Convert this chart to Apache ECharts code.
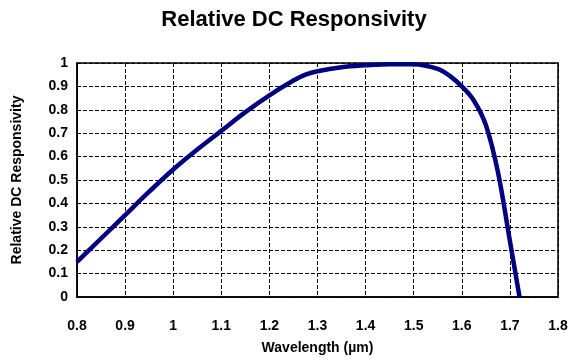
<!DOCTYPE html>
<html>
<head>
<meta charset="utf-8">
<script src="https://cdn.jsdelivr.net/npm/echarts@6/dist/echarts.min.js"></script>
<style>
html,body{margin:0;padding:0;background:#fff;}
#chart{width:579px;height:360px;}
</style>
</head>
<body>
<div id="chart"></div>
<script>
var wavelengths = [0.8, 0.85, 0.9, 0.95, 1.0, 1.05, 1.1, 1.15, 1.2, 1.25, 1.275, 1.3, 1.35, 1.4, 1.45, 1.5, 1.55, 1.575, 1.6, 1.625, 1.65, 1.675, 1.7, 1.72];
var responsivity = [0.15, 0.25, 0.35, 0.45, 0.545, 0.63, 0.71, 0.79, 0.862, 0.925, 0.95, 0.965, 0.982, 0.99, 0.995, 0.995, 0.975, 0.945, 0.9, 0.84, 0.735, 0.535, 0.24, 0];
var xTickLabels = ['0.8','0.9','1','1.1','1.2','1.3','1.4','1.5','1.6','1.7','1.8'];
var yTickLabels = ['0','0.1','0.2','0.3','0.4','0.5','0.6','0.7','0.8','0.9','1'];

var data = wavelengths.map(function(w, i){ return [w, responsivity[i]]; });
var font = '"Liberation Sans", Arial, sans-serif';
var chart = echarts.init(document.getElementById('chart'), null, {renderer:'canvas'});
chart.setOption({
  animation: false,
  backgroundColor: '#fff',
  title: {
    text: 'Relative DC Responsivity',
    left: 289, top: 4, textAlign: 'center',
    textStyle: {fontFamily: font, fontWeight: 'bold', fontSize: 22, color: '#000'}
  },
  grid: {left: 77, right: 21, top: 63, bottom: 63, show: true, borderColor: '#000', borderWidth: 1.5, backgroundColor: 'transparent'},
  xAxis: {
    type: 'value', min: 0.8, max: 1.8, interval: 0.1,
    name: 'Wavelength (µm)', nameLocation: 'middle', nameGap: 44,
    nameTextStyle: {fontFamily: font, fontWeight: 'bold', fontSize: 14, color: '#000'},
    axisLine: {show: true, lineStyle: {color: '#000', width: 1.5}},
    axisTick: {show: false},
    axisLabel: {margin: 22, fontFamily: font, fontWeight: 'bold', fontSize: 14, color: '#000',
      formatter: function(v){ var i = Math.round((v - 0.8) * 10); return xTickLabels[i]; }},
    splitLine: {show: true, lineStyle: {color: '#000', width: 1, type: [4, 2]}}
  },
  yAxis: {
    type: 'value', min: 0, max: 1, interval: 0.1,
    name: 'Relative DC Responsivity', nameLocation: 'middle', nameGap: 53,
    nameTextStyle: {fontFamily: font, fontWeight: 'bold', fontSize: 14, color: '#000'},
    axisLine: {show: true, lineStyle: {color: '#000', width: 1.5}},
    axisTick: {show: false},
    axisLabel: {margin: 9, fontFamily: font, fontWeight: 'bold', fontSize: 14, color: '#000',
      formatter: function(v){ return yTickLabels[Math.round(v * 10)]; }},
    splitLine: {show: true, lineStyle: {color: '#000', width: 1, type: [4, 2]}}
  },
  series: [{
    type: 'line', data: data, smooth: 0.35, showSymbol: false,
    lineStyle: {color: '#000080', width: 4.5}
  }]
});
</script>
</body>
</html>
